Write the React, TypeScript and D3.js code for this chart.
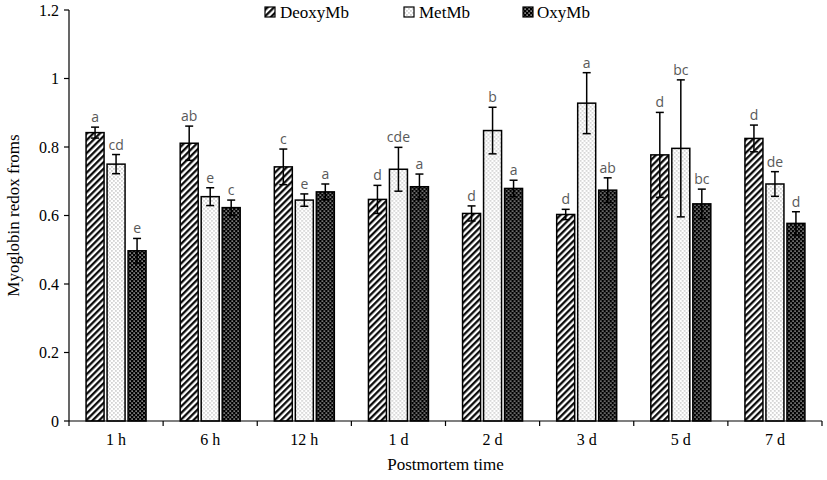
import React from "react";
import * as d3 from "d3";

const categories = ["1 h", "6 h", "12 h", "1 d", "2 d", "3 d", "5 d", "7 d"];
const seriesNames = ["DeoxyMb", "MetMb", "OxyMb"];
const deoxyValues = [0.842, 0.811, 0.742, 0.647, 0.606, 0.603, 0.777, 0.825];
const deoxyErrors = [0.016, 0.05, 0.052, 0.041, 0.022, 0.015, 0.124, 0.039];
const deoxyLetters = ["a", "ab", "c", "d", "d", "d", "d", "d"];
const metValues = [0.75, 0.655, 0.645, 0.735, 0.848, 0.928, 0.796, 0.692];
const metErrors = [0.028, 0.026, 0.018, 0.064, 0.068, 0.089, 0.2, 0.036];
const metLetters = ["cd", "e", "e", "cde", "b", "a", "bc", "de"];
const oxyValues = [0.497, 0.623, 0.669, 0.684, 0.679, 0.674, 0.634, 0.577];
const oxyErrors = [0.036, 0.022, 0.023, 0.037, 0.024, 0.036, 0.043, 0.034];
const oxyLetters = ["e", "c", "a", "a", "a", "ab", "bc", "d"];
const yTicks = [0, 0.2, 0.4, 0.6, 0.8, 1, 1.2];

const seriesValues = [deoxyValues, metValues, oxyValues];
const seriesErrors = [deoxyErrors, metErrors, oxyErrors];
const seriesLetters = [deoxyLetters, metLetters, oxyLetters];
const patternIds = ["pDeoxy", "pMet", "pOxy"];

export default function App() {
  const W = 827, H = 480;
  const left = 69, right = 822, top = 10, bottom = 421;
  const x = d3.scaleBand().domain(categories).range([left, right]).padding(0);
  const bw = x.bandwidth();
  const inner = d3
    .scaleBand()
    .domain(seriesNames)
    .range([(bw - 60) / 2, (bw + 60) / 2])
    .paddingInner(1 / 7)
    .paddingOuter(0);
  const y = d3.scaleLinear().domain([0, 1.2]).range([bottom, top]);
  const serif = "'Liberation Serif', 'Times New Roman', serif";
  const sans = "'Open Sans', 'Liberation Sans', sans-serif";
  const boundaries = [...categories.map((c) => x(c) as number), right];

  const legendPos = [
    { sx: 265, tx: 280 },
    { sx: 404, tx: 419 },
    { sx: 523, tx: 537 },
  ];

  return (
    <svg width={W} height={H} style={{ position: "absolute", left: 0, top: 0, background: "#fff" }}>
      <defs>
        <pattern id="pDeoxy" width="4.6" height="4.6" patternUnits="userSpaceOnUse" patternTransform="rotate(45)">
          <rect width="4.6" height="4.6" fill="#fff" />
          <line x1="1.2" y1="0" x2="1.2" y2="4.6" stroke="#000" strokeWidth="2.2" />
        </pattern>
        <pattern id="pMet" width="4" height="4" patternUnits="userSpaceOnUse">
          <rect width="4" height="4" fill="#fff" />
          <rect x="0.5" y="0.5" width="0.9" height="0.9" fill="#555" />
          <rect x="2.5" y="2.5" width="0.9" height="0.9" fill="#555" />
        </pattern>
        <pattern id="pOxy" width="4" height="4" patternUnits="userSpaceOnUse">
          <rect width="4" height="4" fill="#000" />
          <rect x="0.5" y="0.5" width="1.2" height="1.2" fill="#fff" />
          <rect x="2.5" y="2.5" width="1.2" height="1.2" fill="#fff" />
        </pattern>
      </defs>

      {/* bars */}
      {categories.map((cat, i) => (
        <g key={cat} transform={`translate(${x(cat)},0)`}>
          {seriesNames.map((s, k) => {
            const v = seriesValues[k][i];
            const e = seriesErrors[k][i];
            const bx = inner(s) as number;
            const w = inner.bandwidth();
            const cx = bx + w / 2;
            return (
              <g key={s}>
                <rect
                  x={bx}
                  y={y(v)}
                  width={w}
                  height={y(0) - y(v)}
                  fill={`url(#${patternIds[k]})`}
                  stroke="#000"
                  strokeWidth={1.5}
                />
                <line x1={cx} x2={cx} y1={y(v - e)} y2={y(v + e)} stroke="#000" strokeWidth={1.5} />
                <line x1={cx - 4} x2={cx + 4} y1={y(v + e)} y2={y(v + e)} stroke="#000" strokeWidth={1.5} />
                <line x1={cx - 4} x2={cx + 4} y1={y(v - e)} y2={y(v - e)} stroke="#000" strokeWidth={1.5} />
                <text
                  x={cx}
                  y={y(v + e) - 5}
                  textAnchor="middle"
                  fontFamily={sans}
                  fontSize={14}
                  fill="#595959"
                >
                  {seriesLetters[k][i]}
                </text>
              </g>
            );
          })}
        </g>
      ))}

      {/* y axis */}
      <line x1={left} x2={left} y1={top} y2={bottom} stroke="#000" strokeWidth={1.2} />
      {yTicks.map((t) => (
        <g key={t}>
          <line x1={left - 5} x2={left} y1={y(t)} y2={y(t)} stroke="#000" strokeWidth={1.2} />
          <text
            x={left - 10}
            y={y(t)}
            dy="0.35em"
            textAnchor="end"
            fontFamily={serif}
            fontSize={16}
            fill="#000"
          >
            {d3.format("~g")(t)}
          </text>
        </g>
      ))}

      {/* x axis */}
      <line x1={left} x2={right} y1={bottom} y2={bottom} stroke="#000" strokeWidth={1.2} />
      {boundaries.map((b, i) => (
        <line key={i} x1={b} x2={b} y1={bottom} y2={bottom + 5} stroke="#000" strokeWidth={1.2} />
      ))}
      {categories.map((c) => (
        <text
          key={c}
          x={(x(c) as number) + bw / 2}
          y={bottom + 24}
          textAnchor="middle"
          fontFamily={serif}
          fontSize={16}
          fill="#000"
        >
          {c}
        </text>
      ))}

      {/* axis titles */}
      <text x={(left + right) / 2} y={470} textAnchor="middle" fontFamily={serif} fontSize={17} fill="#000">
        Postmortem time
      </text>
      <text
        transform={`translate(19,${(top + bottom) / 2}) rotate(-90)`}
        textAnchor="middle"
        fontFamily={serif}
        fontSize={17}
        fill="#000"
      >
        Myoglobin redox froms
      </text>

      {/* legend */}
      {seriesNames.map((s, k) => (
        <g key={s}>
          <rect
            x={legendPos[k].sx}
            y={7}
            width={10}
            height={10}
            fill={`url(#${patternIds[k]})`}
            stroke="#000"
            strokeWidth={1.2}
          />
          <text x={legendPos[k].tx} y={12} dy="0.35em" fontFamily={serif} fontSize={17} fill="#000">
            {s}
          </text>
        </g>
      ))}
    </svg>
  );
}
